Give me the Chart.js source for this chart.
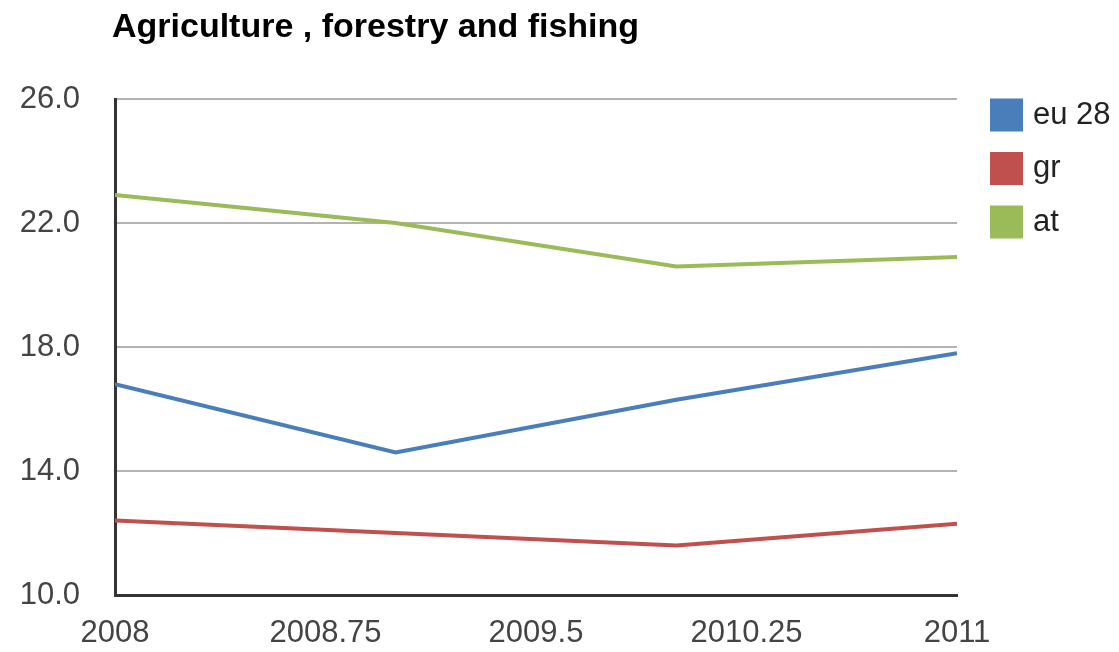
<!DOCTYPE html>
<html>
<head>
<meta charset="utf-8">
<script src="https://cdn.jsdelivr.net/npm/chart.js@4"></script>
<style>
  html, body { margin: 0; padding: 0; background: #fff; }
  #wrap { width: 1119px; height: 652px; position: relative; }
</style>
</head>
<body>
<div id="wrap"><canvas id="myChart"></canvas></div>
<script>
// data
var years = [2008, 2009, 2010, 2011];
var seriesNames = ["eu 28", "gr", "at"];
var eu28 = [16.8, 14.6, 16.3, 17.8];
var gr = [12.4, 12.0, 11.6, 12.3];
var at = [22.9, 22.0, 20.6, 20.9];
var colors = ["#4a7ebb", "#c0504d", "#9bbb59"];
var chartTitle = "Agriculture , forestry and fishing";

function toPoints(vals) {
  return years.map(function (y, i) { return { x: y, y: vals[i] }; });
}

// title + legend boxes on the right
var extras = {
  id: "extras",
  afterDraw: function (chart) {
    var ctx = chart.ctx;
    ctx.save();
    ctx.fillStyle = "#000";
    ctx.font = "bold 34px 'Liberation Sans', Arial, sans-serif";
    ctx.textBaseline = "middle";
    ctx.textAlign = "left";
    ctx.fillText(chartTitle, 112, 28);

    ctx.font = "31px 'Liberation Sans', Arial, sans-serif";
    chart.data.datasets.forEach(function (ds, i) {
      var cy = 115 + i * 53.5;
      ctx.fillStyle = ds.borderColor;
      ctx.fillRect(990, cy - 16.5, 33, 33);
      ctx.fillStyle = "#222";
      ctx.fillText(ds.label, 1033, cy);
    });
    ctx.restore();
  }
};

var ctx = document.getElementById("myChart").getContext("2d");
var myChart = new Chart(ctx, {
  type: "line",
  data: {
    datasets: [
      { label: seriesNames[0], data: toPoints(eu28), borderColor: colors[0] },
      { label: seriesNames[1], data: toPoints(gr), borderColor: colors[1] },
      { label: seriesNames[2], data: toPoints(at), borderColor: colors[2] },
    ],
  },
  options: {
    responsive: true,
    maintainAspectRatio: false,
    animation: false,
    elements: {
      line: { borderWidth: 4, tension: 0 },
      point: { radius: 0 },
    },
    layout: { padding: { top: 99, right: 162, left: 0, bottom: 0 } },
    plugins: {
      legend: { display: false },
      tooltip: { enabled: false },
    },
    scales: {
      x: {
        type: "linear",
        min: 2008,
        max: 2011,
        afterFit: function (s) { s.height = 57; },
        ticks: {
          stepSize: 0.75,
          color: "#444",
          padding: 12,
          maxRotation: 0,
          callback: function (v) { return String(Math.round(v * 100) / 100); },
          font: { size: 31, family: "'Liberation Sans', Arial, sans-serif" },
        },
        grid: { display: false },
        border: { display: true, color: "#333", width: 3 },
      },
      y: {
        min: 10,
        max: 26,
        afterFit: function (s) { s.width = 115; },
        ticks: {
          stepSize: 4,
          color: "#444",
          padding: 35,
          callback: function (v) { return v.toFixed(1); },
          font: { size: 31, family: "'Liberation Sans', Arial, sans-serif" },
        },
        grid: { color: "#b3b3b3", lineWidth: 2, drawTicks: false },
        border: { display: true, color: "#333", width: 3 },
      },
    },
  },
  plugins: [extras],
});
</script>
</body>
</html>
